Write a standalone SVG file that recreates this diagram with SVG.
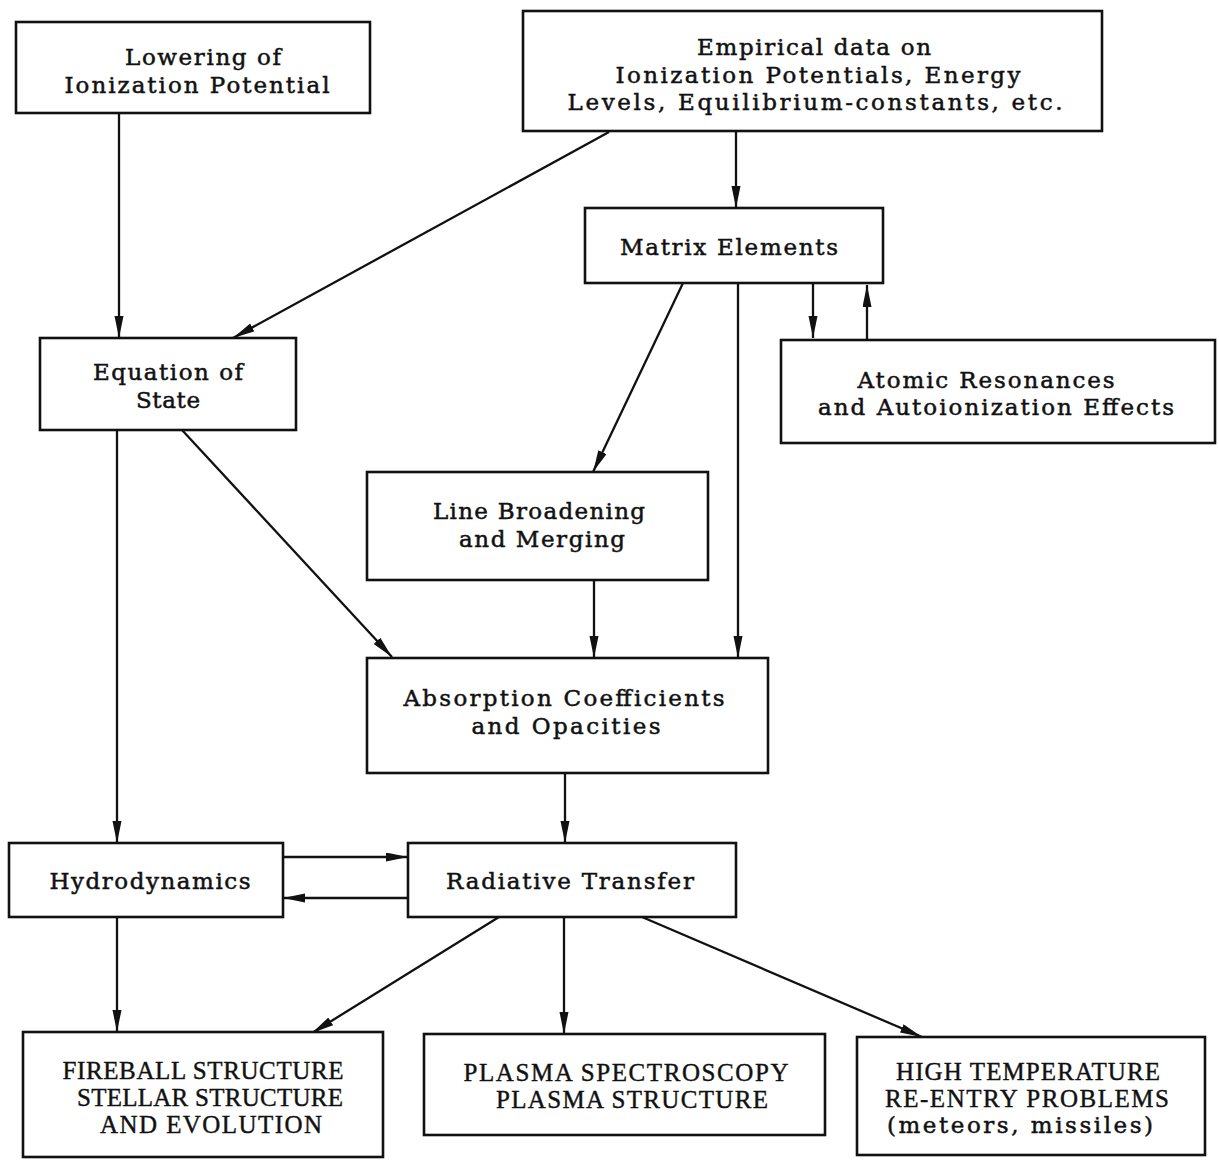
<svg xmlns="http://www.w3.org/2000/svg" width="1219" height="1163" viewBox="0 0 1219 1163">
<style>
.box{fill:#fff;stroke:#111;stroke-width:2.6}
.t{font-family:"DejaVu Serif","Liberation Serif",serif;font-size:23px;fill:#111;stroke:#111;stroke-width:0.5;text-anchor:middle}
.c{font-family:"Liberation Serif","DejaVu Serif",serif;font-size:25px;fill:#111;stroke:#111;stroke-width:0.4;text-anchor:middle}
.e{fill:none;stroke:#111;stroke-width:2.3}
</style>
<defs>
<marker id="ah" markerUnits="userSpaceOnUse" markerWidth="24" markerHeight="10" refX="22" refY="4.5" orient="auto">
<path d="M0,0 L22,4.5 L0,9 Z" fill="#111"/>
</marker>
</defs>
<rect width="1219" height="1163" fill="#fff"/>
<g id="edges">
<line class="e" x1="119" y1="113" x2="119" y2="338" marker-end="url(#ah)"/>
<line class="e" x1="609" y1="132" x2="233" y2="338" marker-end="url(#ah)"/>
<line class="e" x1="736" y1="131" x2="736" y2="208" marker-end="url(#ah)"/>
<line class="e" x1="813" y1="283" x2="813" y2="338" marker-end="url(#ah)"/>
<line class="e" x1="867" y1="340" x2="867" y2="285" marker-end="url(#ah)"/>
<line class="e" x1="683" y1="283" x2="593" y2="472" marker-end="url(#ah)"/>
<line class="e" x1="738" y1="283" x2="738" y2="658" marker-end="url(#ah)"/>
<line class="e" x1="594" y1="580" x2="594" y2="658" marker-end="url(#ah)"/>
<line class="e" x1="182" y1="430" x2="392" y2="657" marker-end="url(#ah)"/>
<line class="e" x1="117" y1="430" x2="117" y2="843" marker-end="url(#ah)"/>
<line class="e" x1="565" y1="773" x2="565" y2="843" marker-end="url(#ah)"/>
<line class="e" x1="283" y1="857" x2="408" y2="857" marker-end="url(#ah)"/>
<line class="e" x1="408" y1="898" x2="283" y2="898" marker-end="url(#ah)"/>
<line class="e" x1="117" y1="917" x2="117" y2="1032" marker-end="url(#ah)"/>
<line class="e" x1="499" y1="917" x2="312" y2="1033" marker-end="url(#ah)"/>
<line class="e" x1="564" y1="917" x2="564" y2="1034" marker-end="url(#ah)"/>
<line class="e" x1="642" y1="917" x2="922" y2="1037" marker-end="url(#ah)"/>
</g>
<g id="lowering">
<rect class="box" x="16" y="22" width="354" height="91"/>
<text class="t" x="203" y="65" textLength="156" lengthAdjust="spacing">Lowering of</text>
<text class="t" x="197" y="93" textLength="265" lengthAdjust="spacing">Ionization Potential</text>
</g>
<g id="empirical">
<rect class="box" x="523" y="11" width="579" height="120"/>
<text class="t" x="814" y="55" textLength="234" lengthAdjust="spacing">Empirical data on</text>
<text class="t" x="818" y="83" textLength="405" lengthAdjust="spacing">Ionization Potentials, Energy</text>
<text class="t" x="815" y="110" textLength="495" lengthAdjust="spacing">Levels, Equilibrium-constants, etc.</text>
</g>
<g id="matrix">
<rect class="box" x="585" y="208" width="298" height="75"/>
<text class="t" x="729" y="255" textLength="218" lengthAdjust="spacing">Matrix Elements</text>
</g>
<g id="equation">
<rect class="box" x="40" y="338" width="256" height="92"/>
<text class="t" x="168" y="380" textLength="150" lengthAdjust="spacing">Equation of</text>
<text class="t" x="168" y="408" textLength="64" lengthAdjust="spacing">State</text>
</g>
<g id="atomic">
<rect class="box" x="781" y="340" width="434" height="103"/>
<text class="t" x="986" y="388" textLength="257" lengthAdjust="spacing">Atomic Resonances</text>
<text class="t" x="996" y="415" textLength="356" lengthAdjust="spacing">and Autoionization Effects</text>
</g>
<g id="line">
<rect class="box" x="367" y="472" width="341" height="108"/>
<text class="t" x="539" y="519" textLength="212" lengthAdjust="spacing">Line Broadening</text>
<text class="t" x="542" y="547" textLength="166" lengthAdjust="spacing">and Merging</text>
</g>
<g id="absorption">
<rect class="box" x="367" y="658" width="401" height="115"/>
<text class="t" x="564" y="706" textLength="321" lengthAdjust="spacing">Absorption Coefficients</text>
<text class="t" x="566" y="734" textLength="189" lengthAdjust="spacing">and Opacities</text>
</g>
<g id="hydro">
<rect class="box" x="9" y="843" width="274" height="74"/>
<text class="t" x="150" y="889" textLength="201" lengthAdjust="spacing">Hydrodynamics</text>
</g>
<g id="radiative">
<rect class="box" x="408" y="843" width="328" height="74"/>
<text class="t" x="570" y="889" textLength="248" lengthAdjust="spacing">Radiative Transfer</text>
</g>
<g id="fireball">
<rect class="box" x="23" y="1032" width="360" height="125"/>
<text class="c" x="203" y="1079" textLength="281" lengthAdjust="spacing">FIREBALL STRUCTURE</text>
<text class="c" x="210" y="1106" textLength="266" lengthAdjust="spacing">STELLAR STRUCTURE</text>
<text class="c" x="211" y="1133" textLength="222" lengthAdjust="spacing">AND EVOLUTION</text>
</g>
<g id="plasma">
<rect class="box" x="424" y="1034" width="401" height="101"/>
<text class="c" x="626" y="1081" textLength="325" lengthAdjust="spacing">PLASMA SPECTROSCOPY</text>
<text class="c" x="632" y="1108" textLength="272" lengthAdjust="spacing">PLASMA STRUCTURE</text>
</g>
<g id="hightemp">
<rect class="box" x="857" y="1037" width="348" height="118"/>
<text class="c" x="1028" y="1080" textLength="264" lengthAdjust="spacing">HIGH TEMPERATURE</text>
<text class="c" x="1027" y="1107" textLength="284" lengthAdjust="spacing">RE-ENTRY PROBLEMS</text>
<text class="t" x="1020" y="1133" textLength="266" lengthAdjust="spacing">(meteors, missiles)</text>
</g>
</svg>
